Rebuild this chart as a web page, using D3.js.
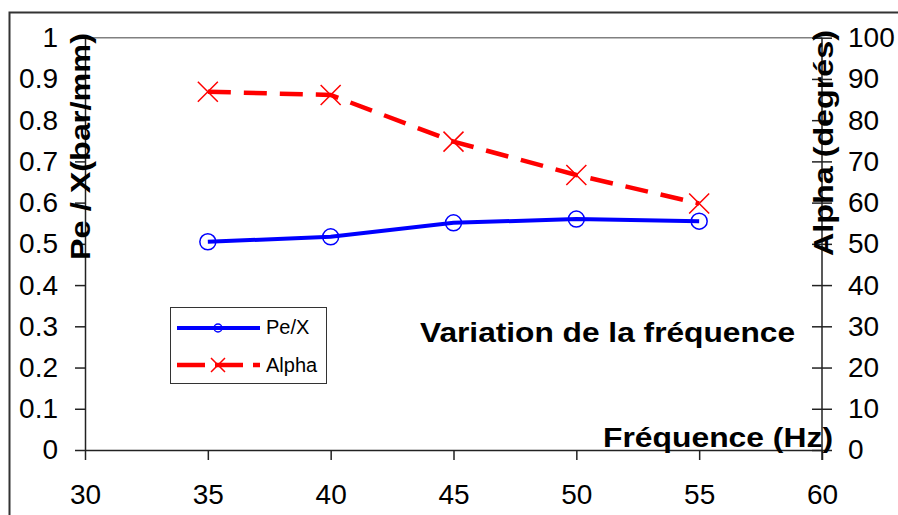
<!DOCTYPE html>
<html>
<head>
<meta charset="utf-8">
<script src="https://cdn.jsdelivr.net/npm/d3@7"></script>
<style>
  body { margin: 0; background: #fff; }
  svg { display: block; font-family: "Liberation Sans", Arial, sans-serif; }
</style>
</head>
<body>
<div id="chart"></div>
<script>
const frequencies = [35, 40, 45, 50, 55];
const peX = [0.505, 0.517, 0.551, 0.560, 0.555];
const alpha = [86.9, 86.1, 74.8, 66.7, 59.8];
const xTicks = [30, 35, 40, 45, 50, 55, 60];
const leftTicks = [0, 0.1, 0.2, 0.3, 0.4, 0.5, 0.6, 0.7, 0.8, 0.9, 1];
const rightTicks = [0, 10, 20, 30, 40, 50, 60, 70, 80, 90, 100];

const width = 898, height = 515;
const plotLeft = 85, plotRight = 822, plotTop = 37.7, plotBottom = 450;

const svg = d3.select("#chart").append("svg")
  .attr("width", width)
  .attr("height", height);

// outer chart border
svg.append("rect")
  .attr("x", 9.5).attr("y", 12.5)
  .attr("width", 900).attr("height", 520)
  .attr("fill", "none")
  .attr("stroke", "#333")
  .attr("stroke-width", 2);

const x = d3.scaleLinear().domain([30, 60]).range([plotLeft, plotRight]);
const yL = d3.scaleLinear().domain([0, 1]).range([plotBottom, plotTop]);
const yR = d3.scaleLinear().domain([0, 100]).range([plotBottom, plotTop]);

// plot area top border
svg.append("line")
  .attr("x1", plotLeft).attr("x2", plotRight)
  .attr("y1", plotTop).attr("y2", plotTop)
  .attr("stroke", "#808080")
  .attr("stroke-width", 1.5);

// Axes
const fmt = d => String(d);
const gx = svg.append("g")
  .attr("transform", `translate(0,${plotBottom})`)
  .call(d3.axisBottom(x).tickValues(xTicks).tickFormat(fmt).tickSize(10).tickPadding(24).tickSizeOuter(0));
const gl = svg.append("g")
  .attr("transform", `translate(${plotLeft},0)`)
  .call(d3.axisLeft(yL).tickValues(leftTicks).tickFormat(fmt).tickSize(10).tickPadding(17).tickSizeOuter(0));
const gr = svg.append("g")
  .attr("transform", `translate(${plotRight},0)`)
  .call(d3.axisRight(yR).tickValues(rightTicks).tickFormat(fmt).tickSize(10).tickPadding(16).tickSizeOuter(0));
// right ticks cross the axis, right axis runs a bit below the x axis
gr.selectAll(".tick line").attr("x1", -10);
gr.select(".domain").attr("d", `M0,${plotTop}V${plotBottom + 10}`);

[gx, gl, gr].forEach(g => {
  g.selectAll("path, line").attr("stroke", "#222").attr("stroke-width", 1.5);
  g.selectAll("text")
    .attr("font-size", 28)
    .attr("fill", "#000")
    .attr("font-family", "Liberation Sans, Arial, sans-serif");
});

// Series
const peLine = d3.line()
  .x((d, i) => x(frequencies[i]))
  .y(d => yL(d));
const alphaLine = d3.line()
  .x((d, i) => x(frequencies[i]))
  .y(d => yR(d));

svg.append("path")
  .datum(peX)
  .attr("d", peLine)
  .attr("fill", "none")
  .attr("stroke", "#0000ff")
  .attr("stroke-width", 4);

svg.selectAll(".pe-mark")
  .data(peX)
  .join("circle")
    .attr("class", "pe-mark")
    .attr("cx", (d, i) => x(frequencies[i]))
    .attr("cy", d => yL(d))
    .attr("r", 8)
    .attr("fill", "none")
    .attr("stroke", "#0000ff")
    .attr("stroke-width", 1.5);

svg.append("path")
  .datum(alpha)
  .attr("d", alphaLine)
  .attr("fill", "none")
  .attr("stroke", "#ff0000")
  .attr("stroke-width", 4.5)
  .attr("stroke-dasharray", "23,13");

const cross = s => `M${-s},${-s}L${s},${s}M${-s},${s}L${s},${-s}`;
svg.selectAll(".al-mark")
  .data(alpha)
  .join("path")
    .attr("class", "al-mark")
    .attr("transform", (d, i) => `translate(${x(frequencies[i])},${yR(d)})`)
    .attr("d", cross(10))
    .attr("stroke", "#ff0000")
    .attr("stroke-width", 1.5);

// Titles (bold, slightly wide like the original rendering)
function title(txt, tx, ty, rot, anchor, len) {
  svg.append("text")
    .attr("transform", `translate(${tx},${ty})` + (rot ? ` rotate(${rot})` : ""))
    .attr("text-anchor", anchor)
    .attr("font-size", 28)
    .attr("font-weight", "bold")
    .attr("textLength", len)
    .attr("lengthAdjust", "spacingAndGlyphs")
    .text(txt);
}
title("Pe / X(bar/mm)", 90, 146.5, -90, "middle", 227);
title("Alpha (degrés)", 833, 143, -90, "middle", 226);
title("Fréquence (Hz)", 833, 447, 0, "end", 230);
title("Variation de la fréquence", 420, 342, 0, "start", 375);

// Legend
const lg = svg.append("g");
lg.append("rect")
  .attr("x", 170.5).attr("y", 307.5)
  .attr("width", 156).attr("height", 76)
  .attr("fill", "#fff")
  .attr("stroke", "#333")
  .attr("stroke-width", 1);

lg.append("line")
  .attr("x1", 177).attr("x2", 260).attr("y1", 328).attr("y2", 328)
  .attr("stroke", "#0000ff").attr("stroke-width", 4);
lg.append("circle")
  .attr("cx", 218).attr("cy", 328).attr("r", 4)
  .attr("fill", "none").attr("stroke", "#0000ff").attr("stroke-width", 1.5);
lg.append("text")
  .attr("x", 266).attr("y", 334)
  .attr("font-size", 20)
  .text("Pe/X");

lg.append("line")
  .attr("x1", 177).attr("x2", 260).attr("y1", 365).attr("y2", 365)
  .attr("stroke", "#ff0000").attr("stroke-width", 4.5)
  .attr("stroke-dasharray", "28,10");
lg.append("path")
  .attr("transform", "translate(218,365)")
  .attr("d", cross(7))
  .attr("stroke", "#ff0000").attr("stroke-width", 1.5);
lg.append("text")
  .attr("x", 266).attr("y", 372)
  .attr("font-size", 20)
  .text("Alpha");
</script>
</body>
</html>
